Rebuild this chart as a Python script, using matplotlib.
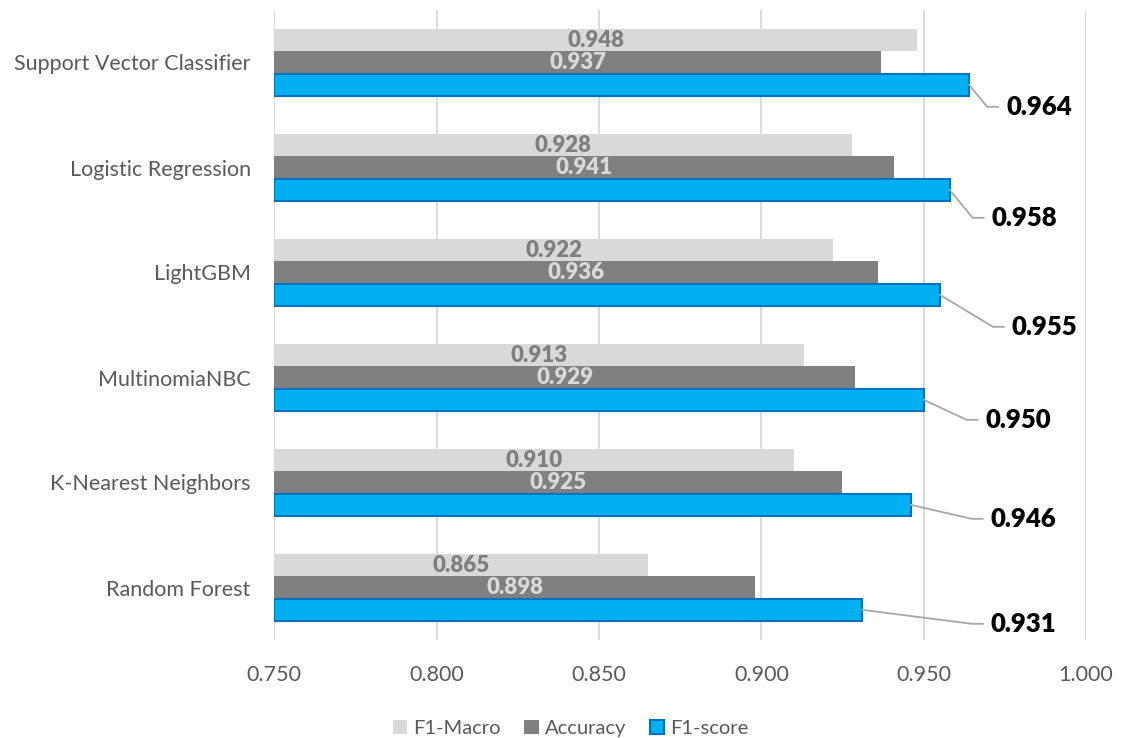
import matplotlib.pyplot as plt
import numpy as np

plt.rcParams['font.family'] = ['Lato', 'DejaVu Sans']

models = ['Support Vector Classifier', 'Logistic Regression', 'LightGBM',
          'MultinomiaNBC', 'K-Nearest Neighbors', 'Random Forest']
f1_macro = [0.948, 0.928, 0.922, 0.913, 0.910, 0.865]
accuracy = [0.937, 0.941, 0.936, 0.929, 0.925, 0.898]
f1_score = [0.964, 0.958, 0.955, 0.950, 0.946, 0.931]

xticks = [0.75, 0.80, 0.85, 0.90, 0.95, 1.00]

# where each F1-score callout sits, in pixels from the end of its bar (right, down)
callout_offsets = [(37, 22), (42, 28), (72, 32), (62, 20), (80, 14), (129, 14)]

fig = plt.figure(figsize=(11.21, 7.38), dpi=100)
ax = fig.add_axes([274.3 / 1121, 98 / 738, 811.7 / 1121, 630 / 738])

y = np.arange(len(models))
h = 0.2125

ax.barh(y - h, np.array(f1_macro) - 0.75, height=h, left=0.75, color='#d9d9d9', label='F1-Macro', zorder=2)
ax.barh(y, np.array(accuracy) - 0.75, height=h, left=0.75, color='#808080', label='Accuracy', zorder=2)
ax.barh(y + h, np.array(f1_score) - 0.75, height=h, left=0.75, color='#00b0f0',
        edgecolor='#0070c0', linewidth=1.5, label='F1-score', zorder=2)

ax.set_xlim(0.75, 1.0)
ax.set_ylim(len(models) - 0.5, -0.5)
ax.set_xticks(xticks)
ax.set_xticklabels(['%.3f' % v for v in xticks])
ax.set_yticks(y)
ax.set_yticklabels(models)
ax.tick_params(length=0, labelsize=15.5, colors='#595959')
ax.tick_params(axis='y', pad=17)
ax.tick_params(axis='x', pad=18)
ax.grid(axis='x', color='#d9d9d9', linewidth=1.3, zorder=0)
for s in ax.spines.values():
    s.set_visible(False)

# values written inside the grey bars
for i in range(len(models)):
    ax.text((0.75 + f1_macro[i]) / 2, y[i] - h, '%.3f' % f1_macro[i], ha='center', va='center',
            fontsize=16, fontweight='heavy', color='#7f7f7f', zorder=3)
    ax.text((0.75 + accuracy[i]) / 2, y[i], '%.3f' % accuracy[i], ha='center', va='center',
            fontsize=16, fontweight='heavy', color='#d9d9d9', zorder=3)

# F1-score callouts with leader lines
to_data = ax.transData.inverted()
for i in range(len(models)):
    x0, y0 = ax.transData.transform((f1_score[i], y[i] + h))
    dx, dy = callout_offsets[i]
    tx, ty = x0 + dx, y0 - dy
    pts = [(x0, y0), (tx - 19, ty), (tx - 8, ty)]
    pts = to_data.transform(pts)
    ax.plot(pts[:, 0], pts[:, 1], color='#a6a6a6', linewidth=1.3, clip_on=False, zorder=3)
    lx, ly = to_data.transform((tx, ty))
    ax.text(lx, ly, '%.3f' % f1_score[i], ha='left', va='center', fontsize=18.5,
            fontweight='heavy', color='black', clip_on=False)

fig.legend(loc='lower center', bbox_to_anchor=(0.509, -0.023), ncol=3, frameon=False,
           fontsize=14.5, labelcolor='#595959', handlelength=0.7, handleheight=0.7,
           handletextpad=0.3, columnspacing=1.2)

fig.savefig('out.png', dpi=100)
